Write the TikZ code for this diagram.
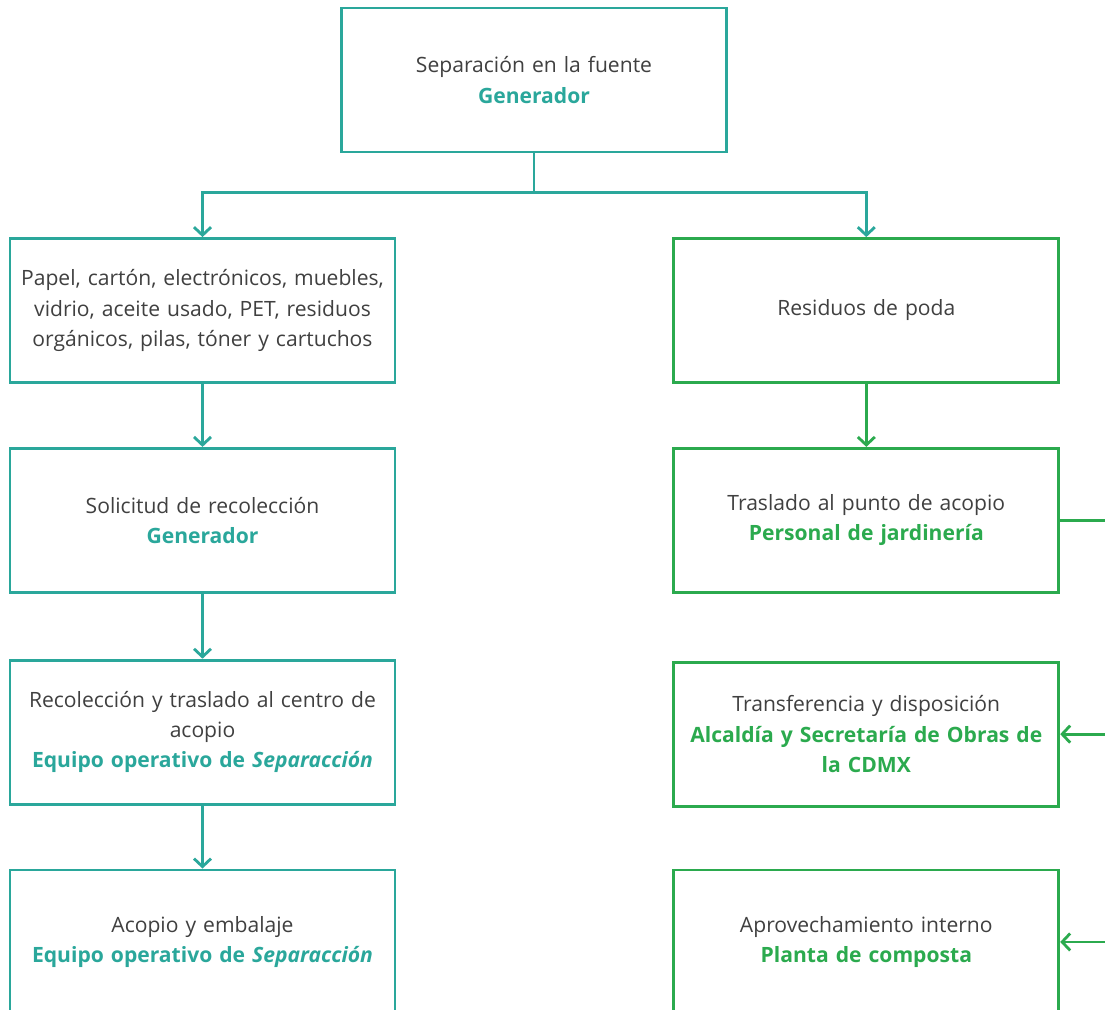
\documentclass[tikz,border=0pt]{standalone}
\usepackage{fontspec}
\setmainfont{Open Sans}
\usetikzlibrary{positioning,arrows.meta,calc}
\definecolor{tealline}{HTML}{2AA79B}
\definecolor{greenline}{HTML}{2BAA4E}
\definecolor{bodytext}{HTML}{404040}
\tikzset{
    % box style
    stepbox/.style = {draw, line width=1.6pt, minimum width=7.7cm, minimum height=2.88cm,
        inner xsep=0.05cm, text width=7.55cm, align=center, text=bodytext,
        font=\fontsize{12}{17.2}\selectfont},
    tealbox/.style = {stepbox, draw=tealline},
    greenbox/.style = {stepbox, draw=greenline},
    % connector style
    flow/.style = {line width=1.6pt, -{Straight Barb[length=1.6mm, width=3.4mm, line width=1.6pt]}}
}

\begin{document}
\begin{tikzpicture}
        \useasboundingbox (0,0) rectangle (22.1,-20.2);
        \clip (0,0) rectangle (22.1,-20.2);
        \fill[white] (0,0) rectangle (22.1,-20.2);
        % top box
        \node[tealbox] (source) at (10.68,-1.6) {Separación en la fuente\\ \textcolor{tealline}{\bfseries Generador}};
        % left column
        \node[tealbox] (items) at (4.05,-6.21) {Papel, cartón, electrónicos, muebles,\\ vidrio, aceite usado, PET, residuos\\ orgánicos, pilas, tóner y cartuchos};
        \node[tealbox, below=1.26cm of items] (request) {Solicitud de recolección\\ \textcolor{tealline}{\bfseries Generador}};
        \node[tealbox, below=1.3cm of request] (pickup) {Recolección y traslado al centro de\\ acopio\\ \textcolor{tealline}{\bfseries Equipo operativo de \textit{Separacción}}};
        \node[tealbox, below=1.26cm of pickup] (storage) {Acopio y embalaje\\ \textcolor{tealline}{\bfseries Equipo operativo de \textit{Separacción}}};
        % right column
        \node[greenbox, right=5.52cm of items] (pruning) {Residuos de poda};
        \node[greenbox, below=1.26cm of pruning] (garden) {Traslado al punto de acopio\\ \textcolor{greenline}{\bfseries Personal de jardinería}};
        \node[greenbox, below=1.34cm of garden] (transfer) {Transferencia y disposición\\ \textcolor{greenline}{\bfseries Alcaldía y Secretaría de Obras de\\ la CDMX}};
        \node[greenbox, below=1.22cm of transfer] (compost) {Aprovechamiento interno\\ \textcolor{greenline}{\bfseries Planta de composta}};

        % split from the top box
        \coordinate (bus) at ($(source.south)+(0,-0.78)$);
        \draw[tealline, line width=1.6pt] (source.south) -- (bus);
        \draw[tealline, flow] (bus) -| (items.north);
        \draw[tealline, flow] (bus) -| (pruning.north);
        % left chain
        \draw[tealline, flow] (items) -- (request);
        \draw[tealline, flow] (request) -- (pickup);
        \draw[tealline, flow] (pickup) -- (storage);
        % right chain
        \draw[greenline, flow] (pruning) -- (garden);
        \coordinate (spine) at ($(garden.east)+(1.08,0)$);
        \draw[greenline, line width=1.6pt] (garden.east) -- (spine);
        \draw[greenline, flow] (spine) |- (transfer.east);
        \draw[greenline, flow] (spine) |- (compost.east);
\end{tikzpicture}
\end{document}
